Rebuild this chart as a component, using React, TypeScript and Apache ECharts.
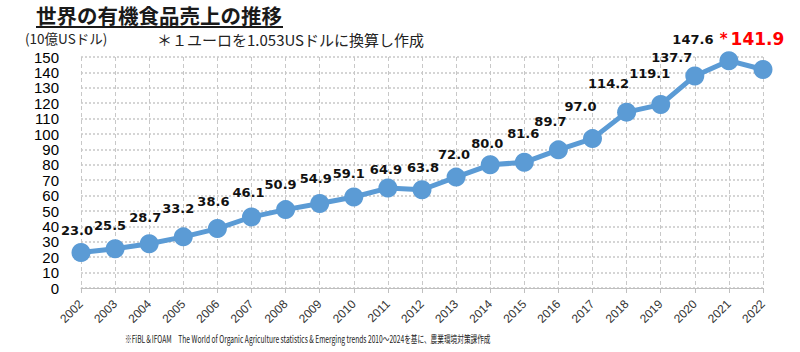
import React, { useEffect, useRef } from "react";
import * as echarts from "echarts";

const years = ["2002","2003","2004","2005","2006","2007","2008","2009","2010","2011","2012","2013","2014","2015","2016","2017","2018","2019","2020","2021","2022"];
const sales = [23.0,25.5,28.7,33.2,38.6,46.1,50.9,54.9,59.1,64.9,63.8,72.0,80.0,81.6,89.7,97.0,114.2,119.1,137.7,147.6,141.9];
const titleText = "世界の有機食品売上の推移";
const unitText = "(10億USドル)";
const noteText = "＊１ユーロを1.053USドルに換算し作成";
const sourceText = "※FiBL＆IFOAM　The World of Organic Agriculture statistics & Emerging trends 2010～2024を基に、農業環境対策課作成";

// label placement tweaks (styling only)
const labelShift: number[][] = [
  [-4,-22],[-5,-23],[-4,-26],[-5,-28],[-4,-27],[-3,-25],[-5,-25],[-4,-25],[-5,-23],[-2,-19],[1,-22],
  [-2,-23],[-3,-21],[-1,-29],[-8,-28],[-12,-32],[-18,-29],[-11,-31],[-23,-18],[-36,-21],[-11,-30]
];

export default function App() {
  const ref = useRef<HTMLDivElement>(null);
  useEffect(() => {
    const chart = echarts.init(ref.current!, null, { renderer: "svg" });
    const last = sales.length - 1;
    const data = sales.map((v, i) => ({
      value: v,
      label: {
        show: true,
        position: "inside",
        offset: labelShift[i],
        formatter: i === last ? "{a|*}{b|" + v.toFixed(1) + "}" : v.toFixed(1),
        rich: i === last ? {
          a: { color: "#ff0000", fontSize: 15, fontFamily: "DejaVu Sans", padding: [0, 3, 0, 0] },
          b: { color: "#ff0000", fontSize: 17, fontWeight: "bold", fontFamily: "DejaVu Sans" },
        } : undefined,
      },
    }));
    chart.setOption({
      animation: false,
      backgroundColor: "#ffffff",
      grid: { left: 81, right: 37, top: 57, bottom: 64 },
      xAxis: {
        type: "category",
        data: years,
        boundaryGap: false,
        axisLine: { show: true, lineStyle: { color: "#bfbfbf", width: 1 } },
        axisTick: { show: true, alignWithLabel: true, length: 5, lineStyle: { color: "#bfbfbf" } },
        axisLabel: { rotate: 45, fontSize: 12, color: "#333", fontFamily: "Liberation Sans", margin: 14, interval: 0 },
        splitLine: { show: true, lineStyle: { color: "#c8c8c8", type: [4, 3], width: 1 } },
      },
      yAxis: {
        type: "value",
        min: 0,
        max: 150,
        interval: 10,
        axisLine: { show: false },
        axisTick: { show: false },
        axisLabel: { fontSize: 15, color: "#000", fontFamily: "Liberation Sans", margin: 22 },
        splitLine: { show: true, lineStyle: { color: "#c8c8c8", type: [2, 2], width: 1.5 } },
      },
      series: [{
        type: "line",
        data,
        symbol: "circle",
        symbolSize: 19,
        itemStyle: { color: "#5b9bd5" },
        lineStyle: { color: "#5b9bd5", width: 5 },
        label: { show: true, fontSize: 13, fontWeight: "bold", color: "#111", fontFamily: "DejaVu Sans" },
        z: 3,
      }],
      graphic: [
        { type: "text", x: 36, y: 15, style: { text: titleText, fontSize: 20.5, lineHeight: 20, fontWeight: "bold", fill: "#1a1a1a", fontFamily: "Noto Sans CJK JP", verticalAlign: "middle" } },
        { type: "line", shape: { x1: 36, y1: 27, x2: 283, y2: 27 }, style: { stroke: "#1a1a1a", lineWidth: 2 } },
        { type: "text", x: 25, y: 38, style: { text: unitText, fontSize: 13.5, lineHeight: 13, fill: "#222", fontFamily: "Noto Sans CJK JP", verticalAlign: "middle" } },
        { type: "text", x: 157, y: 39, style: { text: noteText, fontSize: 15, lineHeight: 15, fill: "#222", fontFamily: "Noto Sans CJK JP", verticalAlign: "middle" } },
        { type: "text", x: 125, y: 338, scaleX: 0.667, style: { text: sourceText, fontSize: 10, fill: "#222", fontFamily: "Noto Sans CJK JP", verticalAlign: "middle" } },
      ],
    });
    return () => chart.dispose();
  }, []);
  return <div ref={ref} style={{ width: 800, height: 352, position: "absolute", left: 0, top: 0 }} />;
}
